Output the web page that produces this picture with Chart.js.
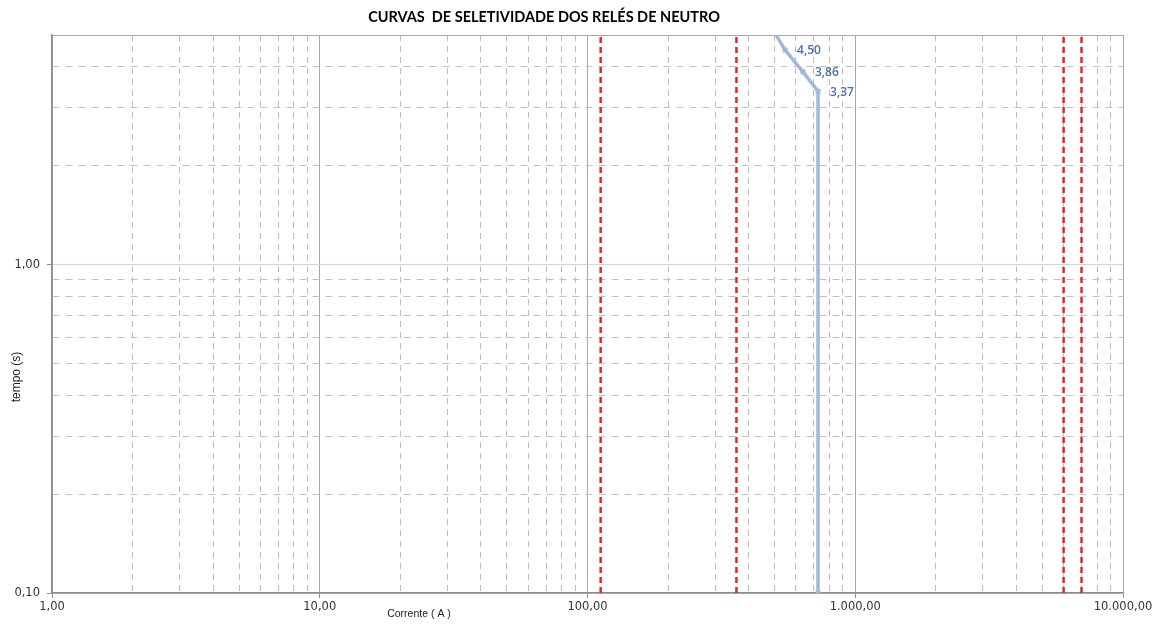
<!DOCTYPE html>
<html>
<head>
<meta charset="utf-8">
<script src="https://cdn.jsdelivr.net/npm/chart.js@4.4.1/dist/chart.umd.min.js"></script>
<style>
  html, body { margin: 0; padding: 0; background: #ffffff; }
  #wrap { width: 1164px; height: 624px; position: relative; }
</style>
</head>
<body>
<div id="wrap"><canvas id="c"></canvas></div>
<script>
// Texts
const chartTitle = 'CURVAS  DE SELETIVIDADE DOS RELÉS DE NEUTRO';
const xAxisTitle = 'Corrente ( A )';
const yAxisTitle = 'tempo (s)';

// Neutral relay curve: current (A) and operating time (s)
const curveCurrent = [460, 547, 638, 726, 726];
const curveTime    = [5.7, 4.50, 3.86, 3.37, 0.10];
const curveLabels  = ['', '4,50', '3,86', '3,37', ''];

// Vertical reference currents (A), drawn as red dashed lines
const limitCurrents = [112, 360, 6000, 7000];
const limitTimes    = [0.10, 5];

// Axis ranges
const xMin = 1, xMax = 10000;
const yMin = 0.1, yMax = 5;

// Log grid positions (1..9 per decade)
const mantissas = [1, 2, 3, 4, 5, 6, 7, 8, 9];
const xDecades = [1, 10, 100, 1000];
const yDecades = [0.1, 1];
const xTickValues = xDecades.flatMap(d => mantissas.map(m => m * d)).concat([10000]);
const yTickValues = yDecades.flatMap(d => mantissas.map(m => +(m * d).toFixed(2)))
  .filter(v => v <= yMax);
const xLabelled = [1, 10, 100, 1000, 10000];
const yLabelled = [0.1, 1];

function fmtBR(v) {
  const parts = v.toFixed(2).split('.');
  const intPart = parts[0].replace(/\B(?=(\d{3})+(?!\d))/g, '.');
  return intPart + ',' + parts[1];
}
const near = (a, b) => Math.abs(a - b) < 1e-9 * Math.max(1, b);
const isIn = (v, list) => list.some(t => near(v, t));

const tickFont = { family: '"DejaVu Sans", Verdana, sans-serif', size: 11.5 };

// Texts drawn around the plot, plus point value labels
const textPlugin = {
  id: 'texts',
  afterDatasetsDraw(chart) {
    const ctx = chart.ctx;
    const meta = chart.getDatasetMeta(0);
    ctx.save();
    ctx.fillStyle = '#4d70aa';
    ctx.font = '600 12px "Open Sans", "Liberation Sans", sans-serif';
    ctx.textAlign = 'left';
    ctx.textBaseline = 'middle';
    meta.data.forEach((pt, i) => {
      const txt = curveLabels[i];
      if (txt) ctx.fillText(txt, pt.x + 12, pt.y + 1);
    });
    ctx.restore();
  },
  afterDraw(chart) {
    const ctx = chart.ctx;
    ctx.save();
    ctx.fillStyle = '#000000';
    ctx.textBaseline = 'middle';
    ctx.textAlign = 'center';
    ctx.font = 'bold 14.5px Lato, "Open Sans", sans-serif';
    ctx.fillText(chartTitle, 544, 17);
    ctx.font = '10.5px "Liberation Sans", Arial, sans-serif';
    ctx.fillStyle = '#222222';
    ctx.fillText(xAxisTitle, 419, 614);
    ctx.font = '12px "Liberation Sans", Arial, sans-serif';
    ctx.translate(17, 377);
    ctx.rotate(-Math.PI / 2);
    ctx.fillText(yAxisTitle, 0, 0);
    ctx.restore();
  }
};

const curveData = curveCurrent.map((x, i) => ({ x: x, y: curveTime[i] }));
const limitSets = limitCurrents.map(c => ({
  data: limitTimes.map(t => ({ x: c, y: t })),
  borderColor: '#e5262b',
  borderWidth: 2.5,
  borderDash: [6, 4],
  pointRadius: 0,
  fill: false,
  clip: 0
}));

new Chart(document.getElementById('c'), {
  type: 'line',
  data: {
    datasets: [{
      data: curveData,
      borderColor: '#a0b7dc',
      backgroundColor: '#a0b7dc',
      borderWidth: 3.5,
      pointStyle: 'rect',
      pointRadius: [0, 3.5, 3.5, 3.5, 3.5],
      pointBorderWidth: 0,
      tension: 0,
      fill: false,
      clip: 0
    }].concat(limitSets)
  },
  options: {
    responsive: true,
    maintainAspectRatio: false,
    animation: false,
    events: [],
    layout: { padding: { top: 35, right: 41, left: 0, bottom: 0 } },
    plugins: {
      legend: { display: false },
      title: { display: false },
      tooltip: { enabled: false }
    },
    scales: {
      x: {
        type: 'logarithmic',
        min: xMin,
        max: xMax,
        afterBuildTicks: s => { s.ticks = xTickValues.map(v => ({ value: v })); },
        afterFit: s => { s.height = 31; },
        ticks: {
          autoSkip: false,
          maxRotation: 0,
          padding: 2,
          font: tickFont,
          color: '#333333',
          callback: v => isIn(v, xLabelled) ? fmtBR(v) : ''
        },
        grid: {
          lineWidth: 1,
          tickLength: 5,
          color: c => (c.tick && isIn(c.tick.value, xLabelled)) ? '#a8a8a8' : '#bdbdbd',
          tickColor: c => (c.tick && isIn(c.tick.value, xLabelled)) ? '#8c8c8c' : 'rgba(0,0,0,0)'
        },
        border: {
          color: '#8c8c8c',
          width: 1.5,
          dash: c => (c.tick && !isIn(c.tick.value, xLabelled)) ? [6, 5] : []
        }
      },
      y: {
        type: 'logarithmic',
        min: yMin,
        max: yMax,
        afterBuildTicks: s => { s.ticks = yTickValues.map(v => ({ value: v })); },
        afterFit: s => { s.width = 52; },
        ticks: {
          autoSkip: false,
          padding: 7,
          font: tickFont,
          color: '#333333',
          callback: v => isIn(v, yLabelled) ? fmtBR(v) : ''
        },
        grid: {
          lineWidth: 1,
          tickLength: 5,
          color: c => {
            if (!c.tick) return '#c4c4c4';
            if (near(c.tick.value, 1)) return '#c9d5e8';
            if (near(c.tick.value, yMax)) return '#a8a8a8';
            return '#c0c0c0';
          },
          tickColor: c => (c.tick && isIn(c.tick.value, yLabelled)) ? '#8c8c8c' : 'rgba(0,0,0,0)'
        },
        border: {
          color: '#8c8c8c',
          width: 1.5,
          dash: c => (c.tick && !isIn(c.tick.value, [1, yMax, yMin])) ? [7, 6] : []
        }
      }
    }
  },
  plugins: [textPlugin]
});
</script>
</body>
</html>
